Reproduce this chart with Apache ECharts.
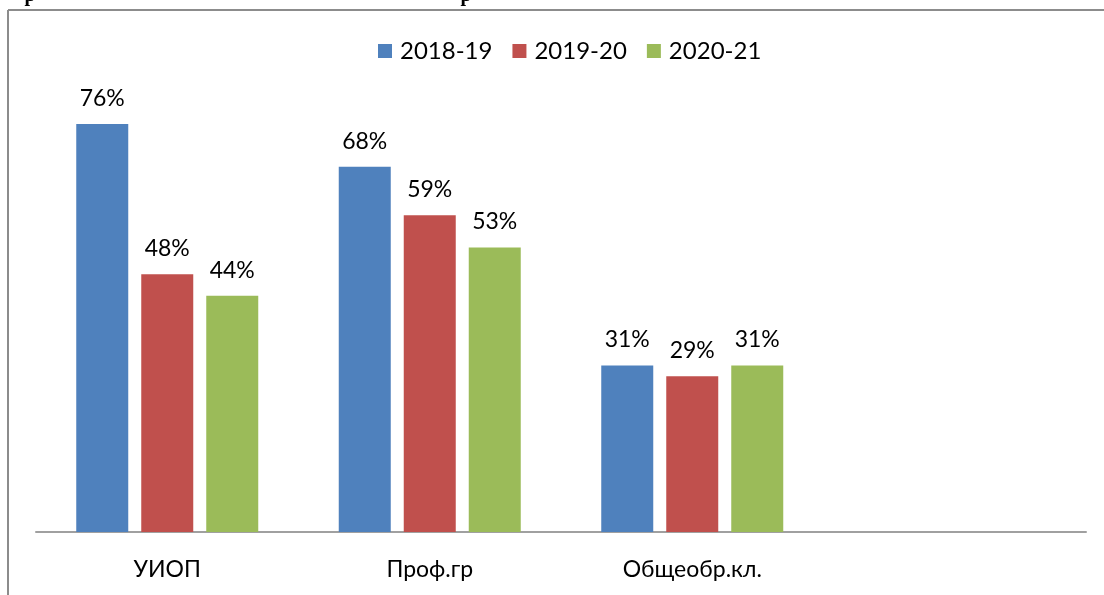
<!DOCTYPE html>
<html>
<head>
<meta charset="utf-8">
<script src="https://cdn.jsdelivr.net/npm/echarts@6/dist/echarts.min.js"></script>
<style>
html,body{margin:0;padding:0;background:#fff;}
#chart{width:1104px;height:595px;}
</style>
</head>
<body>
<div id="chart"></div>
<script>
const categories = ['УИОП', 'Проф.гр', 'Общеобр.кл.', ''];
const seriesNames = ['2018-19', '2019-20', '2020-21'];
const values2018 = [76, 68, 31, null];
const values2019 = [48, 59, 29, null];
const values2020 = [44, 53, 31, null];
const colors = ['#4F81BD', '#C0504D', '#9BBB59'];

const FONT = "Lato, 'Open Sans', sans-serif";
const chart = echarts.init(document.getElementById('chart'));

const mk = (name, data, color) => ({
  name: name,
  type: 'bar',
  data: data,
  barWidth: 52,
  barGap: '25%',
  itemStyle: { color: color },
  label: {
    show: true,
    position: 'top',
    distance: 14,
    formatter: p => p.value == null ? '' : p.value + '%',
    color: '#000',
    fontFamily: FONT,
    fontSize: 23
  },
  emphasis: { disabled: true }
});

chart.setOption({
  animation: false,
  grid: { left: 36, right: 18, top: 532 - 80 * 5.37, bottom: 595 - 532, containLabel: false },
  legend: {
    top: 34,
    left: 373,
    itemWidth: 14,
    itemHeight: 14,
    itemGap: 20,
    icon: 'rect',
    textStyle: { fontFamily: FONT, fontSize: 24, color: '#000', padding: [0, 0, 0, 3] },
    data: seriesNames
  },
  xAxis: {
    type: 'category',
    data: categories,
    axisLine: { lineStyle: { color: '#a0a0a0', width: 2 } },
    axisTick: { show: false },
    axisLabel: { color: '#000', fontFamily: FONT, fontSize: 23, margin: 26 }
  },
  yAxis: {
    type: 'value',
    min: 0,
    max: 80,
    show: false,
    splitLine: { show: false }
  },
  graphic: [
    { type: 'line', shape: { x1: 8, y1: 10, x2: 1104, y2: 10 }, style: { stroke: '#8c8c8c', lineWidth: 2 }, z: 10 },
    { type: 'line', shape: { x1: 8, y1: 10, x2: 8, y2: 595 }, style: { stroke: '#8c8c8c', lineWidth: 2 }, z: 10 },
    { type: 'text', x: 30, y: -14, style: { text: 'р', font: "bold 20px 'Liberation Serif'", fill: '#000', align: 'center', verticalAlign: 'top' } },
    { type: 'text', x: 466, y: -14, style: { text: 'р', font: "bold 20px 'Liberation Serif'", fill: '#000', align: 'center', verticalAlign: 'top' } }
  ],
  series: [
    mk(seriesNames[0], values2018, colors[0]),
    mk(seriesNames[1], values2019, colors[1]),
    mk(seriesNames[2], values2020, colors[2])
  ]
});
</script>
</body>
</html>
